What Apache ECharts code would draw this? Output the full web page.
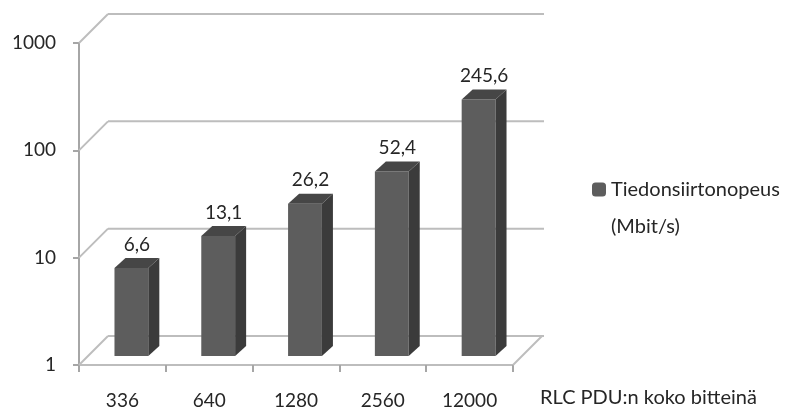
<!DOCTYPE html>
<html>
<head>
<meta charset="utf-8">
<script src="https://cdn.jsdelivr.net/npm/echarts@6/dist/echarts.min.js"></script>
<style>
  html, body { margin: 0; padding: 0; background: #fff; }
  #chart { width: 794px; height: 412px; }
</style>
</head>
<body>
<div id="chart"></div>
<script>
// RLC PDU -koko vs. tiedonsiirtonopeus, 3D-pylväät log-asteikolla
const categories = ['336', '640', '1280', '2560', '12000']
const speeds = [6.6, 13.1, 26.2, 52.4, 245.6]
const yTicks = [1, 10, 100, 1000]

const seriesName = 'Tiedonsiirtonopeus (Mbit/s)'
const FONT = 'Lato'
const TEXT = '#262626'
const WALL = '#bdbdbd'
// seinän syvyys (px) ja pylvään syvyys
const DEPTH = 29
const BAR_OFF = 9
const BAR_DX = 11
const BAR_DY = 10

const chart = echarts.init(document.getElementById('chart'))

// takaseinän ja lattian viivat
const renderFrame = (params, api) => {
  const cs = params.coordSys
  const y = api.coord([0, api.value(1)])[1]
  const x0 = cs.x
  const x1 = cs.x + cs.width
  const line = { stroke: WALL, lineWidth: 2 }
  const children = [
    { type: 'line', shape: { x1: x0, y1: y, x2: x0 + DEPTH, y2: y - DEPTH }, style: line },
    { type: 'line', shape: { x1: x0 + DEPTH, y1: y - DEPTH, x2: x1 + DEPTH + 2, y2: y - DEPTH }, style: line },
  ]
  if (params.dataIndex === 0) {
    children.push({ type: 'line', shape: { x1: x1, y1: y, x2: x1 + DEPTH, y2: y - DEPTH }, style: line })
  }
  return { type: 'group', children }
}

const renderBar = (params, api) => {
  const idx = api.value(0)
  const val = api.value(1)
  const p = api.coord([idx, val])
  const b = api.coord([idx, 1])
  const bw = api.size([1, 0])[0]
  const w = bw * 0.39
  const left = p[0] - w / 2 + BAR_OFF
  const right = left + w
  const top = p[1] - BAR_OFF
  const base = b[1] - BAR_OFF
  return {
    type: 'group',
    children: [
      { type: 'rect', shape: { x: left, y: top, width: w, height: base - top }, style: { fill: '#5d5d5d' } },
      {
        type: 'polygon',
        shape: { points: [[right, top], [right + BAR_DX, top - BAR_DY], [right + BAR_DX, base - BAR_DY], [right, base]] },
        style: { fill: '#3b3b3b' },
      },
      {
        type: 'polygon',
        shape: { points: [[left, top], [left + BAR_DX, top - BAR_DY], [right + BAR_DX, top - BAR_DY], [right, top]] },
        style: { fill: '#464646' },
      },
      {
        type: 'text',
        x: left + w / 2 + BAR_DX / 2,
        y: top - BAR_DY - 4,
        style: {
          text: String(val).replace('.', ','),
          fill: TEXT,
          font: `19px ${FONT}`,
          align: 'center',
          verticalAlign: 'bottom',
        },
      },
    ],
  }
}

chart.setOption({
  animation: false,
  textStyle: { fontFamily: FONT },
  grid: { left: 79, top: 43, width: 434, height: 322 },
  legend: {
    data: [seriesName],
    left: 592,
    top: 134,
    padding: 0,
    itemWidth: 14,
    itemHeight: 14,
    itemGap: 0,
    textStyle: { color: TEXT, fontSize: 20, fontFamily: FONT, lineHeight: 37 },
    // tyhjä ensimmäinen rivi: merkki jää ensimmäisen tekstirivin kohdalle
    formatter: () => '\nTiedonsiirtonopeus\n(Mbit/s)',
  },
  xAxis: {
    type: 'category',
    data: categories,
    name: 'RLC PDU:n koko bitteinä',
    nameLocation: 'end',
    nameGap: 27,
    nameTextStyle: { color: TEXT, fontSize: 20, fontFamily: FONT, align: 'left', verticalAlign: 'top', padding: [23, 0, 0, 0] },
    axisLine: { lineStyle: { color: WALL, width: 2 } },
    axisTick: { show: true, length: 7, lineStyle: { color: '#a6a6a6', width: 2 } },
    axisLabel: { color: TEXT, fontSize: 19, margin: 26 },
  },
  yAxis: {
    type: 'log',
    logBase: 10,
    min: 1,
    max: 1000,
    axisLine: { show: true, lineStyle: { color: '#a6a6a6', width: 2 } },
    axisTick: { show: true, length: 6, lineStyle: { color: '#a6a6a6', width: 2 } },
    axisLabel: { color: TEXT, fontSize: 19, margin: 23, formatter: (v) => String(Math.round(v)) },
    splitLine: { show: false },
  },
  series: [
    {
      name: 'frame',
      type: 'custom',
      renderItem: renderFrame,
      data: yTicks.map((v) => [0, v]),
      clip: false,
      silent: true,
      z: 1,
    },
    {
      name: seriesName,
      type: 'custom',
      renderItem: renderBar,
      data: categories.map((c, i) => [i, speeds[i]]),
      itemStyle: { color: '#5d5d5d' },
      clip: false,
      z: 3,
    },
  ],
})
</script>
</body>
</html>
